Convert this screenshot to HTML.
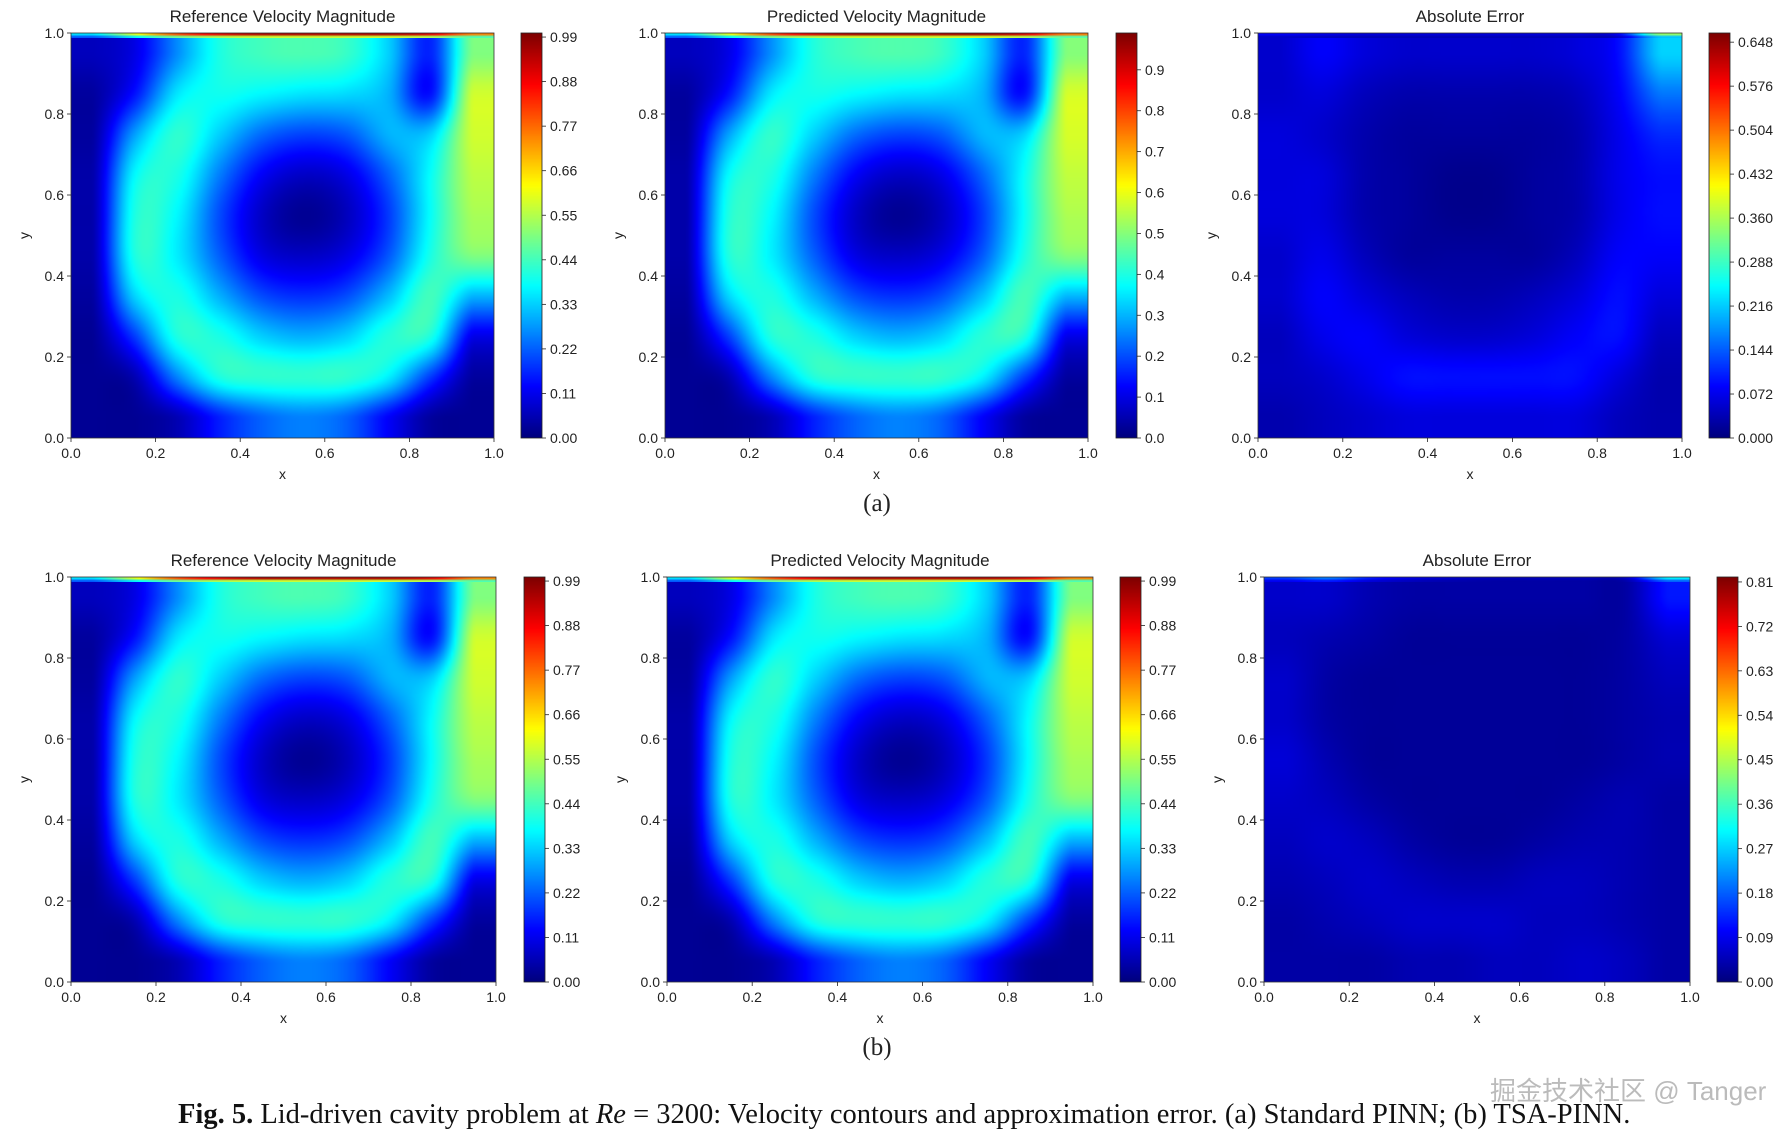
<!DOCTYPE html>
<html><head><meta charset="utf-8"><style>
body{margin:0;width:1789px;height:1133px;background:#fff;position:relative;overflow:hidden;font-family:"Liberation Sans",sans-serif}
canvas.hm{position:absolute}
svg{position:absolute;left:0;top:0}
</style></head><body>
<div id="plots"></div>
<svg id="ov" width="1789" height="1133"></svg>
<script>
// ---- data ----
const xTicks=["0.0","0.2","0.4","0.6","0.8","1.0"];
const yTicks=["0.0","0.2","0.4","0.6","0.8","1.0"];
const velRef=[
[0.06,0.10,0.26,0.40,0.44,0.45,0.43,0.33,0.16,0.50],
[0.03,0.14,0.35,0.39,0.37,0.35,0.34,0.30,0.14,0.58],
[0.03,0.28,0.42,0.33,0.23,0.19,0.21,0.30,0.33,0.58],
[0.04,0.37,0.40,0.25,0.12,0.07,0.10,0.22,0.38,0.56],
[0.04,0.40,0.37,0.20,0.07,0.02,0.06,0.18,0.38,0.54],
[0.04,0.40,0.36,0.22,0.10,0.07,0.10,0.21,0.40,0.50],
[0.03,0.33,0.40,0.30,0.20,0.17,0.20,0.31,0.44,0.30],
[0.02,0.18,0.40,0.40,0.33,0.30,0.33,0.41,0.40,0.10],
[0.02,0.05,0.25,0.40,0.42,0.42,0.42,0.36,0.18,0.03],
[0.02,0.02,0.05,0.15,0.22,0.25,0.22,0.12,0.03,0.02]];
const velLid=[0.35,0.6,0.8,0.9,0.95,0.95,0.95,0.95,0.9,0.75];
const errA=[
[0.05,0.08,0.06,0.05,0.05,0.05,0.05,0.06,0.09,0.22],
[0.05,0.06,0.04,0.03,0.03,0.03,0.03,0.04,0.08,0.16],
[0.06,0.05,0.03,0.02,0.02,0.02,0.02,0.03,0.07,0.11],
[0.06,0.06,0.03,0.02,0.01,0.01,0.02,0.03,0.07,0.09],
[0.06,0.06,0.03,0.02,0.01,0.01,0.02,0.03,0.07,0.09],
[0.05,0.07,0.04,0.02,0.02,0.02,0.02,0.04,0.08,0.08],
[0.05,0.08,0.06,0.04,0.03,0.03,0.04,0.06,0.09,0.06],
[0.04,0.07,0.08,0.06,0.05,0.05,0.06,0.08,0.09,0.04],
[0.04,0.05,0.07,0.09,0.09,0.09,0.09,0.09,0.06,0.03],
[0.03,0.04,0.05,0.06,0.06,0.06,0.06,0.06,0.04,0.03]];
const errALid=[0.08,0.07,0.06,0.06,0.06,0.06,0.06,0.06,0.08,0.35];
const errB=[
[0.06,0.06,0.04,0.03,0.03,0.03,0.03,0.03,0.03,0.12],
[0.05,0.04,0.03,0.02,0.02,0.02,0.02,0.02,0.03,0.07],
[0.06,0.03,0.02,0.02,0.02,0.02,0.02,0.02,0.03,0.05],
[0.06,0.03,0.02,0.02,0.02,0.02,0.02,0.02,0.03,0.04],
[0.07,0.04,0.02,0.02,0.02,0.02,0.02,0.02,0.03,0.04],
[0.06,0.05,0.03,0.02,0.02,0.02,0.02,0.03,0.04,0.03],
[0.05,0.06,0.05,0.03,0.02,0.02,0.03,0.04,0.04,0.03],
[0.04,0.05,0.06,0.05,0.04,0.04,0.05,0.05,0.04,0.03],
[0.03,0.04,0.05,0.06,0.06,0.06,0.05,0.05,0.04,0.03],
[0.03,0.03,0.03,0.04,0.04,0.05,0.05,0.06,0.05,0.03]];
const errBLid=[0.15,0.2,0.12,0.08,0.06,0.05,0.05,0.05,0.06,0.3];
const cbVel=["0.00","0.11","0.22","0.33","0.44","0.55","0.66","0.77","0.88","0.99"];
const cbVelVals=[0,0.11,0.22,0.33,0.44,0.55,0.66,0.77,0.88,0.99];
const cbPred=["0.0","0.1","0.2","0.3","0.4","0.5","0.6","0.7","0.8","0.9"];
const cbPredVals=[0,0.1,0.2,0.3,0.4,0.5,0.6,0.7,0.8,0.9];
const cbErrA=["0.000","0.072","0.144","0.216","0.288","0.360","0.432","0.504","0.576","0.648"];
const cbErrAVals=[0,0.072,0.144,0.216,0.288,0.36,0.432,0.504,0.576,0.648];
const cbErrB=["0.00","0.09","0.18","0.27","0.36","0.45","0.54","0.63","0.72","0.81"];
const cbErrBVals=[0,0.09,0.18,0.27,0.36,0.45,0.54,0.63,0.72,0.81];

const panels=[
{name:"ref-a",title:"Reference Velocity Magnitude",x0:71,x1:494,y0:33,y1:438,cb:521,grid:velRef,lid:velLid,vmax:1.0,tl:cbVel,tv:cbVelVals},
{name:"pred-a",title:"Predicted Velocity Magnitude",x0:665,x1:1088,y0:33,y1:438,cb:1116,grid:velRef,lid:velLid,vmax:0.99,tl:cbPred,tv:cbPredVals},
{name:"err-a",title:"Absolute Error",x0:1258,x1:1682,y0:33,y1:438,cb:1709,grid:errA,lid:errALid,vmax:0.663,tl:cbErrA,tv:cbErrAVals},
{name:"ref-b",title:"Reference Velocity Magnitude",x0:71,x1:496,y0:577,y1:982,cb:524,grid:velRef,lid:velLid,vmax:1.0,tl:cbVel,tv:cbVelVals},
{name:"pred-b",title:"Predicted Velocity Magnitude",x0:667,x1:1093,y0:577,y1:982,cb:1120,grid:velRef,lid:velLid,vmax:1.0,tl:cbVel,tv:cbVelVals},
{name:"err-b",title:"Absolute Error",x0:1264,x1:1690,y0:577,y1:982,cb:1717,grid:errB,lid:errBLid,vmax:0.82,tl:cbErrB,tv:cbErrBVals}];

function jet(v){v=Math.max(0,Math.min(1,v));
 const r=Math.min(4*v-1.5,-4*v+4.5),g=Math.min(4*v-0.5,-4*v+3.5),b=Math.min(4*v+0.5,-4*v+2.5);
 const c=x=>Math.round(255*Math.max(0,Math.min(1,x)));return [c(r),c(g),c(b)];}
function cr(p0,p1,p2,p3,t){return 0.5*(2*p1+(-p0+p2)*t+(2*p0-5*p1+4*p2-p3)*t*t+(-p0+3*p1-3*p2+p3)*t*t*t);}
function sample(g,fy,fx){const nr=g.length,nc=g[0].length;
 const cy=Math.max(0,Math.min(nr-1,fy)),cx=Math.max(0,Math.min(nc-1,fx));
 const iy=Math.floor(cy),ix=Math.floor(cx),ty=cy-iy,tx=cx-ix;
 const G=(i,j)=>g[Math.max(0,Math.min(nr-1,i))][Math.max(0,Math.min(nc-1,j))];
 const rows=[];for(let k=-1;k<3;k++)rows.push(cr(G(iy+k,ix-1),G(iy+k,ix),G(iy+k,ix+1),G(iy+k,ix+2),tx));
 return cr(rows[0],rows[1],rows[2],rows[3],ty);}
function upsample(g,N,M){const nr=g.length,nc=g[0].length,out=[];
 for(let i=0;i<N;i++){const row=[];const fy=(i+0.5)/N*nr-0.5;
  for(let j=0;j<M;j++){const fx=(j+0.5)/M*nc-0.5;row.push(sample(g,fy,fx));}out.push(row);}return out;}
const NS="http://www.w3.org/2000/svg",ov=document.getElementById('ov'),host=document.getElementById('plots');
function T(x,y,s,size,anchor,extra){const t=document.createElementNS(NS,'text');t.setAttribute('x',x);t.setAttribute('y',y);
 t.setAttribute('font-size',size);t.setAttribute('text-anchor',anchor||'middle');t.setAttribute('fill','#222');
 t.setAttribute('font-family','"Liberation Sans",sans-serif');if(extra)t.setAttribute('transform',extra);t.textContent=s;ov.appendChild(t);return t;}
function L(x1,y1,x2,y2,w){const l=document.createElementNS(NS,'line');l.setAttribute('x1',x1);l.setAttribute('y1',y1);l.setAttribute('x2',x2);l.setAttribute('y2',y2);l.setAttribute('stroke','#222');l.setAttribute('stroke-width',w||1);ov.appendChild(l);return l;}
function canvasFrom(rows,x,y,w,h){const nr=rows.length,nc=rows[0].length;const c=document.createElement('canvas');c.width=nc;c.height=nr;c.className='hm';
 c.style.left=x+'px';c.style.top=y+'px';c.style.width=w+'px';c.style.height=h+'px';const ctx=c.getContext('2d');const im=ctx.createImageData(nc,nr);
 for(let i=0;i<nr;i++)for(let j=0;j<nc;j++){const k=(i*nc+j)*4,col=rows[i][j];im.data[k]=col[0];im.data[k+1]=col[1];im.data[k+2]=col[2];im.data[k+3]=255;}
 ctx.putImageData(im,0,0);host.appendChild(c);return c;}
panels.forEach(p=>{
 const w=p.x1-p.x0,h=p.y1-p.y0;
 const fine=upsample(p.grid,140,140);
 const hm=canvasFrom(fine.map(r=>r.map(v=>jet(v/p.vmax))),p.x0,p.y0,w,h);
 
 
 const lidFine=upsample([p.lid],1,140)[0];
 const lid=canvasFrom([lidFine.map(v=>jet(v/p.vmax)),lidFine.map(v=>jet(v*0.6/p.vmax))],p.x0,p.y0,w,5);
 
 
 const cbRows=[];for(let i=0;i<128;i++){cbRows.push([jet(1-i/127)]);}
 const cb=canvasFrom(cbRows,p.cb,p.y0,21,h);
 
 
 const fr=document.createElementNS(NS,'rect');fr.setAttribute('x',p.cb);fr.setAttribute('y',p.y0);fr.setAttribute('width',21);fr.setAttribute('height',h);fr.setAttribute('fill','none');fr.setAttribute('stroke','#222');fr.setAttribute('stroke-width',0.8);ov.appendChild(fr);
 p.tv.forEach((v,i)=>{const yy=p.y1-v/p.vmax*h;L(p.cb+21,yy,p.cb+25,yy,0.8);const t=T(p.cb+29,yy+5,p.tl[i],14,'start');
  
  });
 const r=document.createElementNS(NS,'rect');r.setAttribute('x',p.x0);r.setAttribute('y',p.y0);r.setAttribute('width',w);r.setAttribute('height',h);r.setAttribute('fill','none');r.setAttribute('stroke','#333');r.setAttribute('stroke-width',0.8);ov.appendChild(r);
 xTicks.forEach((s,i)=>{const xx=p.x0+i/5*w;L(xx,p.y1,xx,p.y1+4,0.8);const t=T(xx,p.y1+20,s,14);
  
  });
 yTicks.forEach((s,i)=>{const yy=p.y1-i/5*h;L(p.x0-4,yy,p.x0,yy,0.8);const t=T(p.x0-7,yy+5,s,14,'end');
  
  });
 const tt=T((p.x0+p.x1)/2,p.y0-11,p.title,17);
 
 
 const xl=T((p.x0+p.x1)/2,p.y1+41,'x',14);
 
 
 const yl=T(p.x0-42,(p.y0+p.y1)/2,'y',14,'middle','rotate(-90 '+(p.x0-42)+' '+((p.y0+p.y1)/2)+')');
 
 
});
const la=T(877,511,'(a)',25);la.setAttribute('font-family','"Liberation Serif",serif');


const lb=T(877,1055,'(b)',25);lb.setAttribute('font-family','"Liberation Serif",serif');


</script>
<div style="position:absolute;left:1490px;top:1071px;font-size:26px;color:#bbb;font-family:'Liberation Sans','Noto Sans CJK SC',sans-serif;white-space:nowrap">掘金技术社区 @ Tanger</div>
<div style="position:absolute;left:178px;top:1099px;font-size:28.5px;color:#111;font-family:'Liberation Serif',serif;white-space:nowrap"><b>Fig. 5.</b> Lid-driven cavity problem at <i>Re</i> = 3200: Velocity contours and approximation error. (a) Standard PINN; (b) TSA-PINN.</div>
</body></html>
